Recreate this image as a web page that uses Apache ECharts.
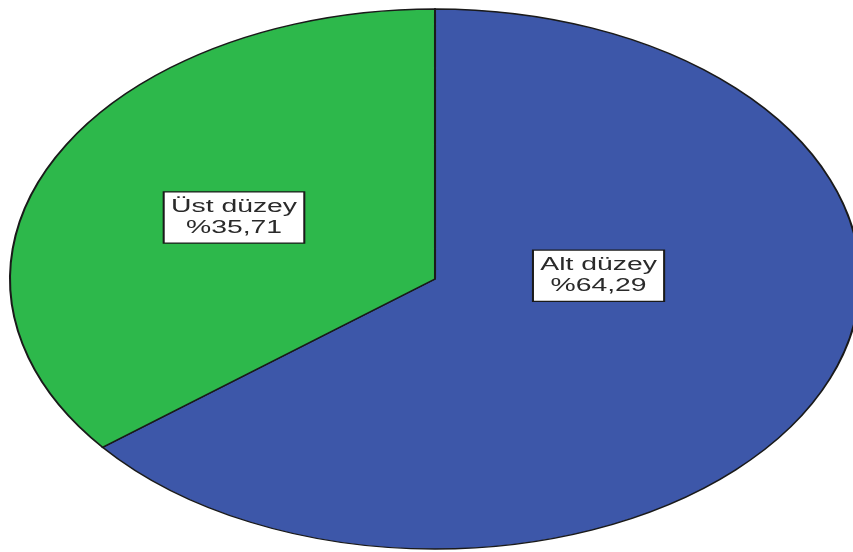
<!DOCTYPE html>
<html>
<head>
<meta charset="utf-8">
<script src="https://cdn.jsdelivr.net/npm/echarts@6/dist/echarts.min.js"></script>
<style>
  html, body { margin: 0; padding: 0; background: #fff; }
  #pieBox { width: 853px; height: 552px; }
</style>
</head>
<body>
<div id="pieBox"></div>
<script>
// data
var categories = ['Alt düzey', 'Üst düzey'];
var percents = [64.29, 35.71];
var labelTexts = ['%64,29', '%35,71'];
var colorList = ['#3d57a9', '#2db84b'];

// the original is a round pie stretched sideways, so draw it that way
var cx = 435, cy = 279, radius = 270, stretch = 1.574;
// where each label sits: fraction of radius, and shift off the slice middle (deg)
var labelSpot = [[0.385, -27.5], [0.525, 0]];

var total = percents.reduce(function (a, b) { return a + b; }, 0);
var starts = [];
var acc = 0;
percents.forEach(function (v) { starts.push(acc); acc += v; });

var chart = echarts.init(document.getElementById('pieBox'));
var option = {
  animation: false,
  series: [{
    type: 'custom',
    coordinateSystem: 'none',
    data: percents.map(function (v, i) { return { name: categories[i], value: v }; }),
    renderItem: function (params, api) {
      var i = params.dataIndex;
      var a0 = -Math.PI / 2 + starts[i] / total * Math.PI * 2;
      var a1 = a0 + api.value(0) / total * Math.PI * 2;
      var mid = (a0 + a1) / 2 + labelSpot[i][1] * Math.PI / 180;
      var lr = radius * labelSpot[i][0];
      return {
        type: 'group',
        x: cx,
        y: cy,
        scaleX: stretch,
        scaleY: 1,
        children: [{
          type: 'sector',
          shape: { cx: 0, cy: 0, r0: 0, r: radius, startAngle: a0, endAngle: a1, clockwise: true },
          style: { fill: colorList[i], stroke: '#1a1a1a', lineWidth: 1.3 }
        }, {
          type: 'text',
          z2: 10,
          x: Math.cos(mid) * lr,
          y: Math.sin(mid) * lr,
          style: {
            text: categories[i] + '\n' + labelTexts[i],
            fill: '#2a2a2a',
            font: '18px "Liberation Sans", Arial, sans-serif',
            lineHeight: 21,
            align: 'center',
            verticalAlign: 'middle',
            backgroundColor: '#fff',
            borderColor: '#1a1a1a',
            borderWidth: 1.3,
            padding: [4, 4, 4, 4]
          }
        }]
      };
    }
  }]
};
chart.setOption(option, true);
</script>
</body>
</html>
